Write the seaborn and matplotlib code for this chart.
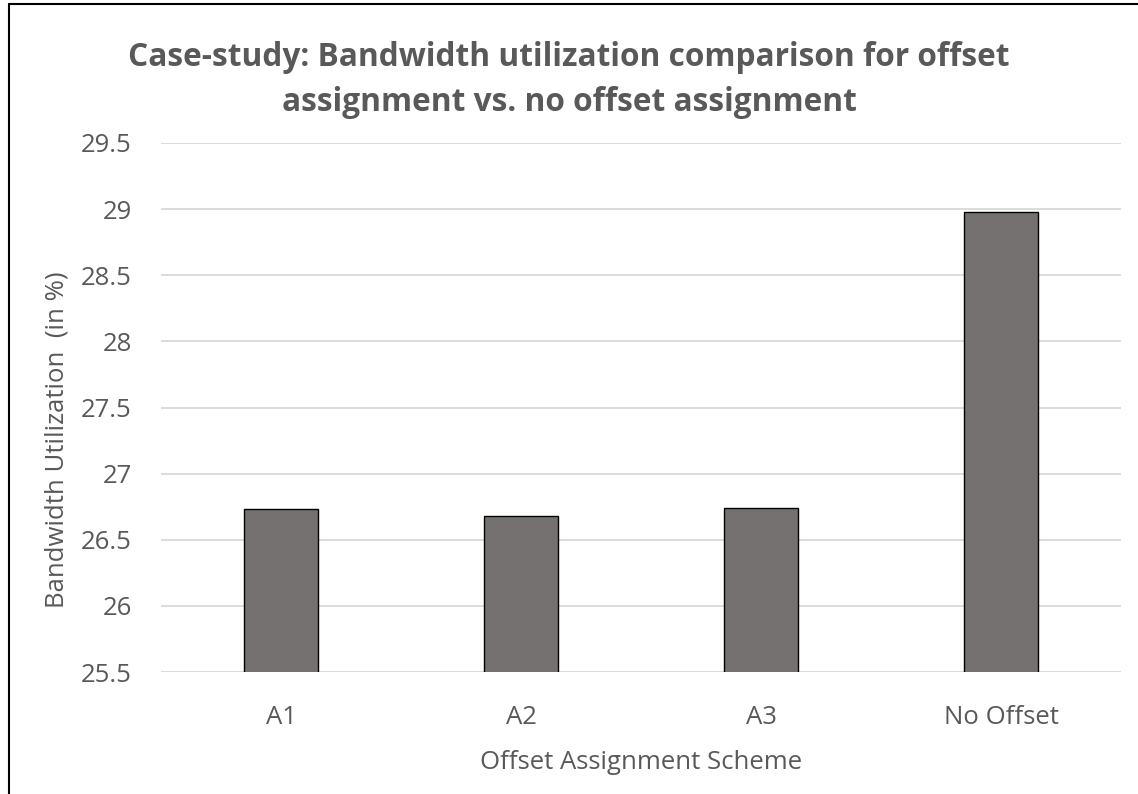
import matplotlib
matplotlib.use("Agg")
import matplotlib.pyplot as plt
from matplotlib.lines import Line2D
import seaborn as sns
import pandas as pd

schemes = ["A1", "A2", "A3", "No Offset"]
utilization = [26.73, 26.68, 26.74, 28.98]
y_ticks = [25.5, 26, 26.5, 27, 27.5, 28, 28.5, 29, 29.5]
y_tick_labels = ["25.5", "26", "26.5", "27", "27.5", "28", "28.5", "29", "29.5"]

title_lines = ["Case-study: Bandwidth utilization comparison for offset",
               "assignment vs. no offset assignment"]
x_label = "Offset Assignment Scheme"
y_label = "Bandwidth Utilization  (in %)"

sns.set_theme(style="white")
plt.rcParams["font.family"] = ["Open Sans", "DejaVu Sans"]

text_gray = "#595959"
grid_gray = "#d9d9d9"
bar_gray = "#767171"

W, H = 1138, 794
df = pd.DataFrame({"scheme": schemes, "value": utilization})

fig = plt.figure(figsize=(W / 100, H / 100), dpi=100)
ax = fig.add_axes([161 / W, 1 - 672 / H, 960 / W, 529 / H])

sns.barplot(data=df, x="scheme", y="value", color=bar_gray, saturation=1,
            width=0.31, edgecolor="black", linewidth=1.0, ax=ax, zorder=3)

ax.set_ylim(25.5, 29.5)
ax.set_xlim(-0.5, len(schemes) - 0.5)
ax.set_yticks(y_ticks)
ax.set_yticklabels(y_tick_labels)
ax.yaxis.grid(True, color=grid_gray, linewidth=1.3, zorder=0)
ax.set_axisbelow(True)
for side in ["top", "right", "left", "bottom"]:
    ax.spines[side].set_visible(False)
ax.tick_params(axis="both", length=0, labelsize=18.5, labelcolor=text_gray)
ax.tick_params(axis="y", pad=21)
ax.tick_params(axis="x", pad=24)

ax.set_xlabel(x_label, fontsize=18.5, color=text_gray, labelpad=14)
ax.set_ylabel(y_label, fontsize=18.5, color=text_gray, labelpad=8)
ax.yaxis.label.set_y(0.44)

# two-line chart title
for line, base_px in zip(title_lines, [66, 111]):
    fig.text(0.5, 1 - base_px / H, line, ha="center", va="baseline",
             fontsize=22.8, fontweight="bold", color=text_gray)

# chart frame along the top and left edges
fig.add_artist(Line2D([8.5 / W, 1.0], [1 - 3.5 / H, 1 - 3.5 / H],
                      transform=fig.transFigure, color="black", linewidth=1.5))
fig.add_artist(Line2D([8.5 / W, 8.5 / W], [0.0, 1 - 3.5 / H],
                      transform=fig.transFigure, color="black", linewidth=1.5))

fig.savefig("out.png", dpi=100, facecolor="white")
